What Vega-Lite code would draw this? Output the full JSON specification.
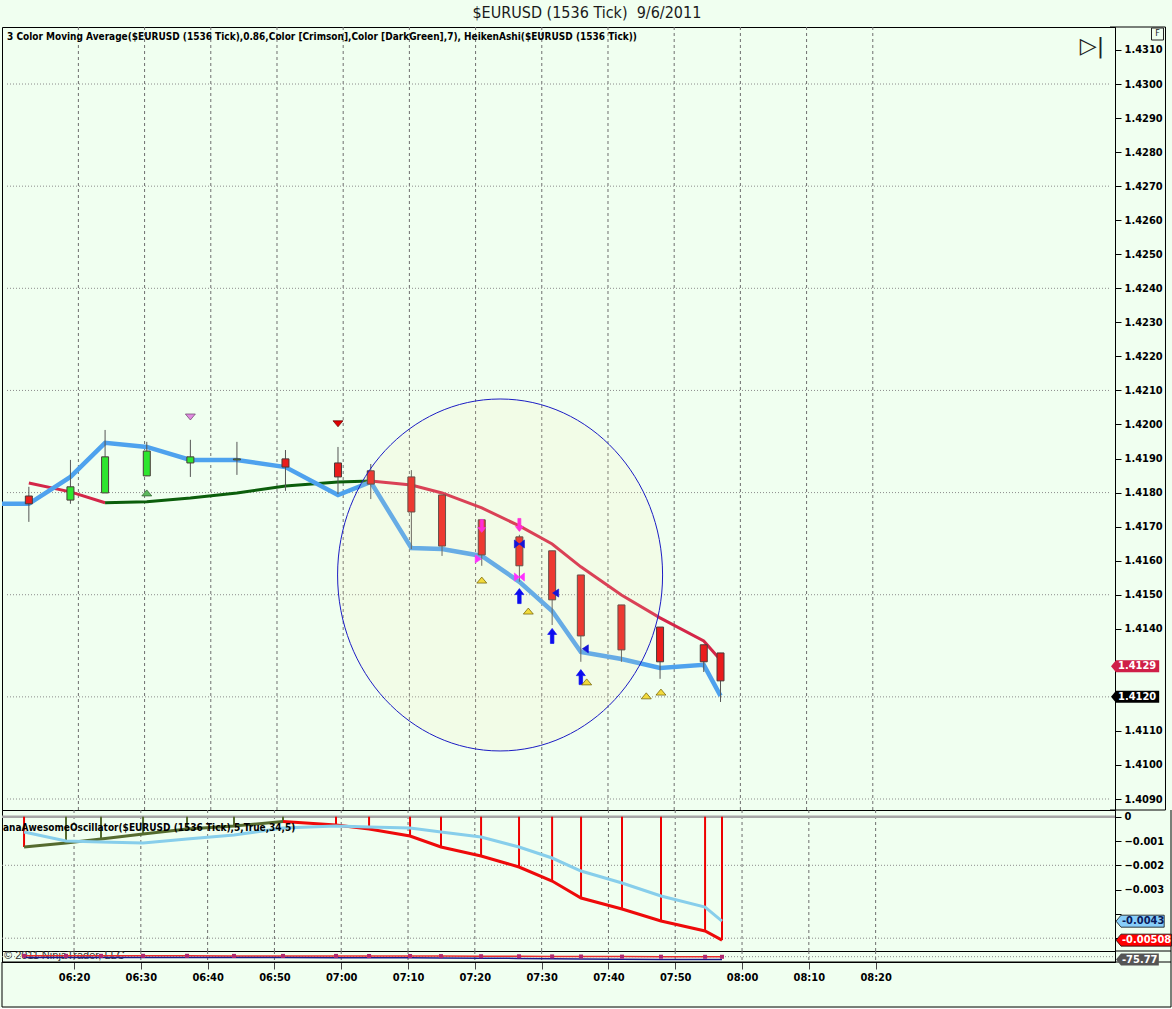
{
  "$schema": "https://vega.github.io/schema/vega-lite/v6.json",
  "description": "$EURUSD 1536 tick chart with Heiken Ashi candles, 3 colour moving average and awesome oscillator",
  "background": "#f0fff0",
  "padding": {"left": 0, "top": 4, "right": 0, "bottom": 0},
  "title": {
    "text": "$EURUSD (1536 Tick) \u00a09/6/2011",
    "font": "DejaVu Sans Condensed, sans-serif",
    "fontSize": 16,
    "fontWeight": "normal",
    "color": "#1a1a1a",
    "anchor": "middle",
    "offset": 5
  },
  "datasets": {
    "gridTimes": [
      {"t": "2011-09-06T06:20:00"}, {"t": "2011-09-06T06:30:00"}, {"t": "2011-09-06T06:40:00"},
      {"t": "2011-09-06T06:50:00"}, {"t": "2011-09-06T07:00:00"}, {"t": "2011-09-06T07:10:00"},
      {"t": "2011-09-06T07:20:00"}, {"t": "2011-09-06T07:30:00"}, {"t": "2011-09-06T07:40:00"},
      {"t": "2011-09-06T07:50:00"}, {"t": "2011-09-06T08:00:00"}, {"t": "2011-09-06T08:10:00"},
      {"t": "2011-09-06T08:20:00"}
    ],
    "priceGrid": [
      {"level": 1.43}, {"level": 1.427}, {"level": 1.424}, {"level": 1.421},
      {"level": 1.418}, {"level": 1.415}, {"level": 1.412}, {"level": 1.409}
    ],
    "ha": [
      {"t": "2011-09-06T06:12:31", "open": 1.41790, "high": 1.41817, "low": 1.41714, "close": 1.41767},
      {"t": "2011-09-06T06:18:48", "open": 1.41778, "high": 1.41896, "low": 1.41767, "close": 1.41817},
      {"t": "2011-09-06T06:24:02", "open": 1.41799, "high": 1.41984, "low": 1.41799, "close": 1.41905},
      {"t": "2011-09-06T06:30:20", "open": 1.41849, "high": 1.41949, "low": 1.41849, "close": 1.41922},
      {"t": "2011-09-06T06:36:55", "open": 1.41887, "high": 1.41955, "low": 1.41846, "close": 1.41905},
      {"t": "2011-09-06T06:43:57", "open": 1.41896, "high": 1.41949, "low": 1.41852, "close": 1.41899},
      {"t": "2011-09-06T06:51:17", "open": 1.41899, "high": 1.41925, "low": 1.41805, "close": 1.41875},
      {"t": "2011-09-06T06:59:13", "open": 1.41887, "high": 1.41934, "low": 1.41796, "close": 1.41846},
      {"t": "2011-09-06T07:04:10", "open": 1.41864, "high": 1.41884, "low": 1.41781, "close": 1.41825},
      {"t": "2011-09-06T07:10:18", "open": 1.41846, "high": 1.41866, "low": 1.41634, "close": 1.41743},
      {"t": "2011-09-06T07:14:56", "open": 1.41793, "high": 1.41793, "low": 1.41614, "close": 1.41643},
      {"t": "2011-09-06T07:20:56", "open": 1.41720, "high": 1.41720, "low": 1.41585, "close": 1.41617},
      {"t": "2011-09-06T07:26:37", "open": 1.41670, "high": 1.41676, "low": 1.41538, "close": 1.41585},
      {"t": "2011-09-06T07:31:34", "open": 1.41629, "high": 1.41629, "low": 1.41411, "close": 1.41485},
      {"t": "2011-09-06T07:35:54", "open": 1.41558, "high": 1.41558, "low": 1.41303, "close": 1.41379},
      {"t": "2011-09-06T07:42:02", "open": 1.41470, "high": 1.41470, "low": 1.41303, "close": 1.41338},
      {"t": "2011-09-06T07:47:52", "open": 1.41405, "high": 1.41405, "low": 1.41253, "close": 1.41303},
      {"t": "2011-09-06T07:54:28", "open": 1.41353, "high": 1.41353, "low": 1.41273, "close": 1.41303},
      {"t": "2011-09-06T07:57:00", "open": 1.41329, "high": 1.41329, "low": 1.41185, "close": 1.41247}
    ],
    "blue": [
      {"t": "2011-09-06T06:06:00", "v": 1.41767},
      {"t": "2011-09-06T06:12:31", "v": 1.41767},
      {"t": "2011-09-06T06:18:48", "v": 1.41846},
      {"t": "2011-09-06T06:24:02", "v": 1.41946},
      {"t": "2011-09-06T06:30:20", "v": 1.41934},
      {"t": "2011-09-06T06:36:55", "v": 1.41896},
      {"t": "2011-09-06T06:43:57", "v": 1.41896},
      {"t": "2011-09-06T06:51:17", "v": 1.41875},
      {"t": "2011-09-06T06:59:13", "v": 1.41793},
      {"t": "2011-09-06T07:04:10", "v": 1.41831},
      {"t": "2011-09-06T07:10:18", "v": 1.41637},
      {"t": "2011-09-06T07:14:56", "v": 1.41634},
      {"t": "2011-09-06T07:20:56", "v": 1.41614},
      {"t": "2011-09-06T07:26:37", "v": 1.41538},
      {"t": "2011-09-06T07:31:34", "v": 1.41452},
      {"t": "2011-09-06T07:35:54", "v": 1.41332},
      {"t": "2011-09-06T07:42:02", "v": 1.41311},
      {"t": "2011-09-06T07:47:52", "v": 1.41285},
      {"t": "2011-09-06T07:54:28", "v": 1.41294},
      {"t": "2011-09-06T07:57:00", "v": 1.41203}
    ],
    "tcma": [
      {"t": "2011-09-06T06:12:31", "v": 1.41828, "trend": "falling", "seg": 1},
      {"t": "2011-09-06T06:18:48", "v": 1.41802, "trend": "falling", "seg": 1},
      {"t": "2011-09-06T06:24:02", "v": 1.41770, "trend": "falling", "seg": 1},
      {"t": "2011-09-06T06:24:02", "v": 1.41770, "trend": "rising", "seg": 2},
      {"t": "2011-09-06T06:30:20", "v": 1.41773, "trend": "rising", "seg": 2},
      {"t": "2011-09-06T06:36:55", "v": 1.41784, "trend": "rising", "seg": 2},
      {"t": "2011-09-06T06:43:57", "v": 1.41799, "trend": "rising", "seg": 2},
      {"t": "2011-09-06T06:51:17", "v": 1.41819, "trend": "rising", "seg": 2},
      {"t": "2011-09-06T06:59:13", "v": 1.41831, "trend": "rising", "seg": 2},
      {"t": "2011-09-06T07:04:10", "v": 1.41834, "trend": "rising", "seg": 2},
      {"t": "2011-09-06T07:04:10", "v": 1.41834, "trend": "falling", "seg": 3},
      {"t": "2011-09-06T07:10:18", "v": 1.41822, "trend": "falling", "seg": 3},
      {"t": "2011-09-06T07:14:56", "v": 1.41799, "trend": "falling", "seg": 3},
      {"t": "2011-09-06T07:20:56", "v": 1.41755, "trend": "falling", "seg": 3},
      {"t": "2011-09-06T07:26:37", "v": 1.41702, "trend": "falling", "seg": 3},
      {"t": "2011-09-06T07:31:34", "v": 1.41649, "trend": "falling", "seg": 3},
      {"t": "2011-09-06T07:35:54", "v": 1.41582, "trend": "falling", "seg": 3},
      {"t": "2011-09-06T07:42:02", "v": 1.41499, "trend": "falling", "seg": 3},
      {"t": "2011-09-06T07:47:52", "v": 1.41432, "trend": "falling", "seg": 3},
      {"t": "2011-09-06T07:54:28", "v": 1.41364, "trend": "falling", "seg": 3},
      {"t": "2011-09-06T07:57:00", "v": 1.41308, "trend": "falling", "seg": 3}
    ],
    "signals": [
      {"t": "2011-09-06T06:30:20", "price": 1.41799, "signal": "ha_up"},
      {"t": "2011-09-06T06:36:55", "price": 1.42022, "signal": "pink_dn"},
      {"t": "2011-09-06T06:59:13", "price": 1.42002, "signal": "red_dn"},
      {"t": "2011-09-06T07:20:56", "price": 1.41702, "signal": "mag_dn_arrow"},
      {"t": "2011-09-06T07:20:38", "price": 1.41605, "signal": "mag_right"},
      {"t": "2011-09-06T07:20:56", "price": 1.41543, "signal": "yellow_up"},
      {"t": "2011-09-06T07:26:37", "price": 1.41705, "signal": "mag_dn_arrow"},
      {"t": "2011-09-06T07:26:37", "price": 1.41649, "signal": "blue_bowtie"},
      {"t": "2011-09-06T07:26:37", "price": 1.41552, "signal": "mag_bowtie"},
      {"t": "2011-09-06T07:26:37", "price": 1.41496, "signal": "blue_up_arrow"},
      {"t": "2011-09-06T07:27:58", "price": 1.41452, "signal": "yellow_up"},
      {"t": "2011-09-06T07:31:52", "price": 1.41505, "signal": "blue_left"},
      {"t": "2011-09-06T07:31:34", "price": 1.41379, "signal": "blue_up_arrow"},
      {"t": "2011-09-06T07:36:21", "price": 1.41341, "signal": "blue_left"},
      {"t": "2011-09-06T07:35:54", "price": 1.41258, "signal": "blue_up_arrow"},
      {"t": "2011-09-06T07:36:47", "price": 1.41244, "signal": "yellow_up"},
      {"t": "2011-09-06T07:45:47", "price": 1.41203, "signal": "yellow_up"},
      {"t": "2011-09-06T07:48:00", "price": 1.41214, "signal": "yellow_up"}
    ],
    "ao": [
      {"t": "2011-09-06T06:12:31", "ao": -0.001247, "sig": -0.000630, "dir": "falling"},
      {"t": "2011-09-06T06:18:48", "ao": -0.001082, "sig": -0.001000, "dir": "rising"},
      {"t": "2011-09-06T06:24:02", "ao": -0.000918, "sig": -0.001041, "dir": "rising"},
      {"t": "2011-09-06T06:30:20", "ao": -0.000712, "sig": -0.001082, "dir": "rising"},
      {"t": "2011-09-06T06:36:55", "ao": -0.000506, "sig": -0.000918, "dir": "rising"},
      {"t": "2011-09-06T06:43:57", "ao": -0.000383, "sig": -0.000753, "dir": "rising"},
      {"t": "2011-09-06T06:51:17", "ao": -0.000200, "sig": -0.000465, "dir": "rising"},
      {"t": "2011-09-06T06:59:13", "ao": -0.000342, "sig": -0.000383, "dir": "falling"},
      {"t": "2011-09-06T07:04:10", "ao": -0.000506, "sig": -0.000424, "dir": "falling"},
      {"t": "2011-09-06T07:10:18", "ao": -0.000794, "sig": -0.000465, "dir": "falling"},
      {"t": "2011-09-06T07:14:56", "ao": -0.001247, "sig": -0.000630, "dir": "falling"},
      {"t": "2011-09-06T07:20:56", "ao": -0.001617, "sig": -0.000835, "dir": "falling"},
      {"t": "2011-09-06T07:26:37", "ao": -0.002070, "sig": -0.001247, "dir": "falling"},
      {"t": "2011-09-06T07:31:34", "ao": -0.002646, "sig": -0.001700, "dir": "falling"},
      {"t": "2011-09-06T07:35:54", "ao": -0.003346, "sig": -0.002235, "dir": "falling"},
      {"t": "2011-09-06T07:42:02", "ao": -0.003798, "sig": -0.002728, "dir": "falling"},
      {"t": "2011-09-06T07:47:52", "ao": -0.004292, "sig": -0.003263, "dir": "falling"},
      {"t": "2011-09-06T07:54:28", "ao": -0.004704, "sig": -0.003716, "dir": "falling"},
      {"t": "2011-09-06T07:57:00", "ao": -0.005080, "sig": -0.004300, "dir": "falling"}
    ],
    "lower": [
      {"t": "2011-09-06T06:12:31", "k": -38, "d": -55},
      {"t": "2011-09-06T06:18:48", "k": -38, "d": -55},
      {"t": "2011-09-06T06:24:02", "k": -38, "d": -55},
      {"t": "2011-09-06T06:30:20", "k": -38, "d": -55},
      {"t": "2011-09-06T06:36:55", "k": -38, "d": -56},
      {"t": "2011-09-06T06:43:57", "k": -39, "d": -56},
      {"t": "2011-09-06T06:51:17", "k": -39, "d": -56},
      {"t": "2011-09-06T06:59:13", "k": -39, "d": -57},
      {"t": "2011-09-06T07:04:10", "k": -40, "d": -57},
      {"t": "2011-09-06T07:10:18", "k": -40, "d": -58},
      {"t": "2011-09-06T07:14:56", "k": -41, "d": -60},
      {"t": "2011-09-06T07:20:56", "k": -42, "d": -62},
      {"t": "2011-09-06T07:26:37", "k": -43, "d": -64},
      {"t": "2011-09-06T07:31:34", "k": -44, "d": -67},
      {"t": "2011-09-06T07:35:54", "k": -45, "d": -70},
      {"t": "2011-09-06T07:42:02", "k": -46, "d": -72},
      {"t": "2011-09-06T07:47:52", "k": -47, "d": -74},
      {"t": "2011-09-06T07:54:28", "k": -48, "d": -75},
      {"t": "2011-09-06T07:57:00", "k": -48, "d": -75.77}
    ]
  },
  "spacing": 0,
  "bounds": "flush",
  "resolve": {
    "scale": {"x": "independent", "y": "independent", "color": "independent", "fill": "independent", "shape": "independent", "stroke": "independent"}
  },
  "vconcat": [
    {
      "width": 1113,
      "height": 783,
      "layer": [
        {
          "data": {"name": "gridTimes"},
          "mark": {"type": "rule", "color": "#6e6e6e", "strokeDash": [3, 3], "strokeWidth": 1},
          "encoding": {
            "x": {
              "field": "t", "type": "temporal", "axis": null,
              "scale": {"domain": [
                {"year": 2011, "month": 9, "date": 6, "hours": 6, "minutes": 9, "seconds": 13},
                {"year": 2011, "month": 9, "date": 6, "hours": 8, "minutes": 55, "seconds": 50}
              ]}
            }
          }
        },
        {
          "data": {"name": "priceGrid"},
          "mark": {"type": "rule", "color": "#8c8c8c", "strokeDash": [1, 2], "strokeWidth": 1},
          "encoding": {
            "x": {"datum": {"year": 2011, "month": 9, "date": 6, "hours": 6, "minutes": 9, "seconds": 13}, "type": "temporal", "axis": null},
            "x2": {"datum": {"year": 2011, "month": 9, "date": 6, "hours": 8, "minutes": 55, "seconds": 50}},
            "y": {
              "field": "level", "type": "quantitative",
              "axis": {
                "orient": "right", "title": null, "tickCount": 25, "grid": false, "tickSize": 6, "labelPadding": 3,
                "labelExpr": "abs(datum.value - 1.413) < 0.00001 || abs(datum.value - 1.412) < 0.00001 ? '' : format(datum.value, '.4f')"
              },
              "scale": {"domain": [1.408677, 1.431675], "nice": false, "zero": false}
            }
          }
        },
        {
          "data": {"values": [{"level": 1.431675}, {"level": 1.408677}]},
          "mark": {"type": "rule", "color": "#000000", "strokeWidth": 1},
          "encoding": {
            "x": {"datum": {"year": 2011, "month": 9, "date": 6, "hours": 8, "minutes": 55, "seconds": 50}, "type": "temporal", "axis": null},
            "x2": {"datum": {"year": 2011, "month": 9, "date": 6, "hours": 9, "minutes": 4, "seconds": 13}},
            "y": {"field": "level", "type": "quantitative"}
          }
        },
        {
          "data": {"values": [{"top": 1.431675, "bottom": 1.408677}]},
          "mark": {"type": "rule", "color": "#000000", "strokeWidth": 1},
          "encoding": {
            "x": {"datum": {"year": 2011, "month": 9, "date": 6, "hours": 9, "minutes": 4, "seconds": 13}, "type": "temporal", "axis": null},
            "y": {"field": "top", "type": "quantitative"},
            "y2": {"field": "bottom"}
          }
        },
        {
          "data": {"name": "tcma"},
          "mark": {"type": "line", "strokeWidth": 3},
          "encoding": {
            "x": {"field": "t", "type": "temporal", "axis": null},
            "y": {"field": "v", "type": "quantitative"},
            "color": {"field": "trend", "type": "nominal", "legend": null, "scale": {"domain": ["falling", "rising"], "range": ["#d42648", "#0b5e0b"]}},
            "detail": {"field": "seg"}
          }
        },
        {
          "data": {"name": "blue"},
          "mark": {"type": "line", "color": "#4ea2ee", "strokeWidth": 4.5, "clip": true},
          "encoding": {
            "x": {"field": "t", "type": "temporal", "axis": null},
            "y": {"field": "v", "type": "quantitative"}
          }
        },
        {
          "data": {"name": "ha"},
          "mark": {"type": "rule", "color": "#555555", "strokeWidth": 1},
          "encoding": {
            "x": {"field": "t", "type": "temporal", "axis": null},
            "y": {"field": "low", "type": "quantitative"},
            "y2": {"field": "high"}
          }
        },
        {
          "data": {"name": "ha"},
          "mark": {"type": "bar", "width": 7, "stroke": "#4a3a3a", "strokeWidth": 1},
          "encoding": {
            "x": {"field": "t", "type": "temporal", "axis": null},
            "y": {"field": "open", "type": "quantitative"},
            "y2": {"field": "close"},
            "color": {"condition": {"test": "datum.close > datum.open", "value": "#2ee62e"}, "value": "#ea1c1c"}
          }
        },
        {
          "data": {"values": [{"t": "2011-09-06T07:23:42", "price": 1.41558}]},
          "mark": {
            "type": "point",
            "shape": "M-1,0A1,1.083,0,1,0,1,0A1,1.083,0,1,0,-1,0Z",
            "size": 105625,
            "filled": true,
            "fill": "#ffe8b0",
            "fillOpacity": 0.14,
            "stroke": "#1c1cc4",
            "strokeWidth": 1,
            "strokeOpacity": 1
          },
          "encoding": {
            "x": {"field": "t", "type": "temporal", "axis": null},
            "y": {"field": "price", "type": "quantitative"}
          }
        },
        {
          "data": {"name": "signals"},
          "mark": {"type": "point", "filled": true, "size": 100, "strokeWidth": 0.7, "opacity": 1},
          "encoding": {
            "x": {"field": "t", "type": "temporal", "axis": null},
            "y": {"field": "price", "type": "quantitative"},
            "shape": {
              "field": "signal", "type": "nominal", "legend": null,
              "scale": {
                "domain": ["ha_up", "pink_dn", "red_dn", "yellow_up", "blue_up_arrow", "mag_dn_arrow", "mag_bowtie", "blue_bowtie", "mag_right", "blue_left"],
                "range": [
                  "M-1,0.6L1,0.6L0,-0.6Z",
                  "M-1,-0.6L1,-0.6L0,0.6Z",
                  "M-1,-0.6L1,-0.6L0,0.6Z",
                  "M-1,0.6L1,0.6L0,-0.6Z",
                  "M0,-1.5L0.9,-0.3L0.35,-0.3L0.35,1.5L-0.35,1.5L-0.35,-0.3L-0.9,-0.3Z",
                  "M0,1.3L0.8,0.3L0.3,0.3L0.3,-1.3L-0.3,-1.3L-0.3,0.3L-0.8,0.3Z",
                  "M-1,-0.8L0,0L-1,0.8ZM1,-0.8L0,0L1,0.8Z",
                  "M-1,-0.8L0,0L-1,0.8ZM1,-0.8L0,0L1,0.8Z",
                  "M-0.9,-0.8L0.3,0L-0.9,0.8Z",
                  "M0.9,-0.8L-0.3,0L0.9,0.8Z"
                ]
              }
            },
            "fill": {
              "field": "signal", "type": "nominal", "legend": null,
              "scale": {
                "domain": ["ha_up", "pink_dn", "red_dn", "yellow_up", "blue_up_arrow", "mag_dn_arrow", "mag_bowtie", "blue_bowtie", "mag_right", "blue_left"],
                "range": ["#5cb85c", "#e08ae0", "#e00000", "#f2da3c", "#0c0cf0", "#ff2ed8", "#ff30ff", "#1414d8", "#ff30ff", "#1414d8"]
              }
            },
            "stroke": {
              "field": "signal", "type": "nominal", "legend": null,
              "scale": {
                "domain": ["ha_up", "pink_dn", "red_dn", "yellow_up", "blue_up_arrow", "mag_dn_arrow", "mag_bowtie", "blue_bowtie", "mag_right", "blue_left"],
                "range": ["#2d5a2d", "#664466", "#600000", "#6b5a00", "#0c0cf0", "#ff2ed8", "#ff30ff", "#1414d8", "#ff30ff", "#1414d8"]
              }
            }
          }
        },
        {
          "data": {"values": [{"label": "3 Color Moving Average($EURUSD (1536 Tick),0.86,Color [Crimson],Color [DarkGreen],7), HeikenAshi($EURUSD (1536 Tick))"}]},
          "mark": {"type": "text", "align": "left", "baseline": "middle", "dx": 0, "dy": 10, "font": "DejaVu Sans Condensed, sans-serif", "fontSize": 10, "fontWeight": "bold", "color": "#000"},
          "encoding": {
            "x": {"datum": {"year": 2011, "month": 9, "date": 6, "hours": 6, "minutes": 9, "seconds": 13}, "type": "temporal", "axis": null},
            "y": {"datum": 1.431675, "type": "quantitative"},
            "text": {"field": "label"}
          }
        },
        {
          "data": {"values": [{"label": "\u25b7|"}]},
          "mark": {"type": "text", "align": "center", "baseline": "middle", "dx": -18, "dy": 19, "font": "DejaVu Sans", "fontSize": 22, "color": "#222"},
          "encoding": {
            "x": {"datum": {"year": 2011, "month": 9, "date": 6, "hours": 8, "minutes": 55, "seconds": 50}, "type": "temporal", "axis": null},
            "y": {"datum": 1.431675, "type": "quantitative"},
            "text": {"field": "label"}
          }
        },
        {
          "data": {"values": [{"label": "F"}]},
          "mark": {"type": "square", "size": 144, "filled": false, "color": "#222", "strokeWidth": 1, "xOffset": -8, "yOffset": 7, "opacity": 1},
          "encoding": {
            "x": {"datum": {"year": 2011, "month": 9, "date": 6, "hours": 9, "minutes": 4, "seconds": 13}, "type": "temporal", "axis": null},
            "y": {"datum": 1.431675, "type": "quantitative"}
          }
        },
        {
          "data": {"values": [{"label": "F"}]},
          "mark": {"type": "text", "align": "center", "baseline": "middle", "dx": -8, "dy": 7, "font": "DejaVu Sans", "fontSize": 8, "color": "#222"},
          "encoding": {
            "x": {"datum": {"year": 2011, "month": 9, "date": 6, "hours": 9, "minutes": 4, "seconds": 13}, "type": "temporal", "axis": null},
            "y": {"datum": 1.431675, "type": "quantitative"},
            "text": {"field": "label"}
          }
        },
        {
          "data": {"values": [{"label": "1.4129", "v": 1.4129, "kind": "tcma"}, {"label": "1.4120", "v": 1.412, "kind": "last"}]},
          "mark": {"type": "point", "filled": true, "size": 144, "shape": "M0.17,0L1,-1L8.2,-1L8.2,1L1,1Z", "opacity": 1},
          "encoding": {
            "x": {"datum": {"year": 2011, "month": 9, "date": 6, "hours": 8, "minutes": 55, "seconds": 50}, "type": "temporal", "axis": null},
            "y": {"field": "v", "type": "quantitative"},
            "color": {"condition": {"test": "datum.kind == 'tcma'", "value": "#cf1f48"}, "value": "#000000"}
          }
        },
        {
          "data": {"values": [{"label": "1.4129", "v": 1.4129, "kind": "tcma"}, {"label": "1.4120", "v": 1.412, "kind": "last"}]},
          "mark": {"type": "text", "align": "left", "baseline": "middle", "dx": 8, "font": "DejaVu Sans Condensed, DejaVu Sans", "fontSize": 11, "fontWeight": "bold", "color": "#ffffff"},
          "encoding": {
            "x": {"datum": {"year": 2011, "month": 9, "date": 6, "hours": 8, "minutes": 55, "seconds": 50}, "type": "temporal", "axis": null},
            "y": {"field": "v", "type": "quantitative"},
            "text": {"field": "label"}
          }
        }
      ]
    },
    {
      "width": 1113,
      "height": 141,
      "layer": [
        {
          "data": {"name": "gridTimes"},
          "mark": {"type": "rule", "color": "#6e6e6e", "strokeDash": [3, 3], "strokeWidth": 1},
          "encoding": {
            "x": {
              "field": "t", "type": "temporal", "axis": null,
              "scale": {"domain": [
                {"year": 2011, "month": 9, "date": 6, "hours": 6, "minutes": 9, "seconds": 13},
                {"year": 2011, "month": 9, "date": 6, "hours": 8, "minutes": 55, "seconds": 50}
              ]}
            }
          }
        },
        {
          "data": {"values": [{"level": -0.002}, {"level": -0.005}]},
          "mark": {"type": "rule", "color": "#8c8c8c", "strokeDash": [1, 2], "strokeWidth": 1},
          "encoding": {
            "x": {"datum": {"year": 2011, "month": 9, "date": 6, "hours": 6, "minutes": 9, "seconds": 13}, "type": "temporal", "axis": null},
            "x2": {"datum": {"year": 2011, "month": 9, "date": 6, "hours": 8, "minutes": 55, "seconds": 50}},
            "y": {
              "field": "level", "type": "quantitative",
              "axis": {
                "orient": "right", "title": null, "tickCount": 6, "grid": false, "tickSize": 6, "labelPadding": 3,
                "labelExpr": "datum.value > -0.00001 ? '0' : (datum.value < -0.0035 ? '' : format(datum.value, '.3f'))"
              },
              "scale": {"domain": [-0.005527, 0.000276], "nice": false, "zero": false}
            }
          }
        },
        {
          "data": {"values": [{"level": -0.005527}]},
          "mark": {"type": "rule", "color": "#000000", "strokeWidth": 1},
          "encoding": {
            "x": {"datum": {"year": 2011, "month": 9, "date": 6, "hours": 8, "minutes": 55, "seconds": 50}, "type": "temporal", "axis": null},
            "x2": {"datum": {"year": 2011, "month": 9, "date": 6, "hours": 9, "minutes": 4, "seconds": 13}},
            "y": {"field": "level", "type": "quantitative"}
          }
        },
        {
          "data": {"values": [{"top": 0.000276, "bottom": -0.005527}]},
          "mark": {"type": "rule", "color": "#000000", "strokeWidth": 1},
          "encoding": {
            "x": {"datum": {"year": 2011, "month": 9, "date": 6, "hours": 9, "minutes": 4, "seconds": 13}, "type": "temporal", "axis": null},
            "y": {"field": "top", "type": "quantitative"},
            "y2": {"field": "bottom"}
          }
        },
        {
          "data": {"values": [{"level": 0}]},
          "mark": {"type": "rule", "color": "#a6a6a6", "strokeWidth": 2.5},
          "encoding": {
            "x": {"datum": {"year": 2011, "month": 9, "date": 6, "hours": 6, "minutes": 9, "seconds": 13}, "type": "temporal", "axis": null},
            "x2": {"datum": {"year": 2011, "month": 9, "date": 6, "hours": 8, "minutes": 55, "seconds": 50}},
            "y": {"field": "level", "type": "quantitative"}
          }
        },
        {
          "data": {"name": "ao"},
          "mark": {"type": "rule", "strokeWidth": 2},
          "encoding": {
            "x": {"field": "t", "type": "temporal", "axis": null},
            "y": {"field": "ao", "type": "quantitative"},
            "y2": {"datum": 0},
            "color": {"field": "dir", "type": "nominal", "legend": null, "scale": {"domain": ["rising", "falling"], "range": ["#556b2f", "#ee0000"]}}
          }
        },
        {
          "data": {"name": "ao"},
          "transform": [{"filter": "time(datum.t) <= time(datetime(2011, 8, 6, 6, 51, 17))"}],
          "mark": {"type": "line", "color": "#556b2f", "strokeWidth": 3},
          "encoding": {
            "x": {"field": "t", "type": "temporal", "axis": null},
            "y": {"field": "ao", "type": "quantitative"}
          }
        },
        {
          "data": {"name": "ao"},
          "transform": [{"filter": "time(datum.t) >= time(datetime(2011, 8, 6, 6, 51, 17))"}],
          "mark": {"type": "line", "color": "#ee0a0a", "strokeWidth": 3},
          "encoding": {
            "x": {"field": "t", "type": "temporal", "axis": null},
            "y": {"field": "ao", "type": "quantitative"}
          }
        },
        {
          "data": {"name": "ao"},
          "mark": {"type": "line", "color": "#87ceeb", "strokeWidth": 3},
          "encoding": {
            "x": {"field": "t", "type": "temporal", "axis": null},
            "y": {"field": "sig", "type": "quantitative"}
          }
        },
        {
          "data": {"values": [{"label": "anaAwesomeOscillator($EURUSD (1536 Tick),5,True,34,5)"}]},
          "mark": {"type": "text", "align": "left", "baseline": "middle", "dx": 1, "dy": 18, "font": "DejaVu Sans Condensed, sans-serif", "fontSize": 10, "fontWeight": "bold", "color": "#000"},
          "encoding": {
            "x": {"datum": {"year": 2011, "month": 9, "date": 6, "hours": 6, "minutes": 9, "seconds": 13}, "type": "temporal", "axis": null},
            "y": {"datum": 0.000276, "type": "quantitative"},
            "text": {"field": "label"}
          }
        },
        {
          "data": {"values": [{"label": "-0.0043", "v": -0.0043, "kind": "sig"}, {"label": "-0.00508", "v": -0.00508, "kind": "ao"}]},
          "mark": {"type": "point", "filled": true, "size": 144, "stroke": "#111", "strokeWidth": 0.8, "opacity": 1},
          "encoding": {
            "x": {"datum": {"year": 2011, "month": 9, "date": 6, "hours": 8, "minutes": 55, "seconds": 50}, "type": "temporal", "axis": null},
            "y": {"field": "v", "type": "quantitative"},
            "color": {"condition": {"test": "datum.kind == 'sig'", "value": "#87cefa"}, "value": "#ff0000"},
            "shape": {"condition": {"test": "datum.kind == 'sig'", "value": "M0.17,0L1,-1L8.2,-1L8.2,1L1,1Z"}, "value": "M0.17,0L1,-1L9.4,-1L9.4,1L1,1Z"}
          }
        },
        {
          "data": {"values": [{"label": "-0.0043", "v": -0.0043, "kind": "sig"}, {"label": "-0.00508", "v": -0.00508, "kind": "ao"}]},
          "mark": {"type": "text", "align": "left", "baseline": "middle", "dx": 7, "font": "DejaVu Sans Condensed, DejaVu Sans", "fontSize": 11, "fontWeight": "bold"},
          "encoding": {
            "x": {"datum": {"year": 2011, "month": 9, "date": 6, "hours": 8, "minutes": 55, "seconds": 50}, "type": "temporal", "axis": null},
            "y": {"field": "v", "type": "quantitative"},
            "text": {"field": "label"},
            "color": {"condition": {"test": "datum.kind == 'sig'", "value": "#0a1a5a"}, "value": "#ffffff"}
          }
        }
      ]
    },
    {
      "width": 1113,
      "height": 11,
      "layer": [
        {
          "data": {"name": "gridTimes"},
          "mark": {"type": "rule", "color": "#6e6e6e", "strokeDash": [3, 3], "strokeWidth": 1},
          "encoding": {
            "x": {
              "field": "t", "type": "temporal",
              "scale": {"domain": [
                {"year": 2011, "month": 9, "date": 6, "hours": 6, "minutes": 9, "seconds": 13},
                {"year": 2011, "month": 9, "date": 6, "hours": 8, "minutes": 55, "seconds": 50}
              ]},
              "axis": {
                "orient": "bottom", "title": null, "grid": false, "format": "%H:%M",
                "tickSize": 7, "tickColor": "#444", "labelPadding": 2, "domainColor": "#000",
                "values": [
                  {"year": 2011, "month": 9, "date": 6, "hours": 6, "minutes": 20},
                  {"year": 2011, "month": 9, "date": 6, "hours": 6, "minutes": 30},
                  {"year": 2011, "month": 9, "date": 6, "hours": 6, "minutes": 40},
                  {"year": 2011, "month": 9, "date": 6, "hours": 6, "minutes": 50},
                  {"year": 2011, "month": 9, "date": 6, "hours": 7, "minutes": 0},
                  {"year": 2011, "month": 9, "date": 6, "hours": 7, "minutes": 10},
                  {"year": 2011, "month": 9, "date": 6, "hours": 7, "minutes": 20},
                  {"year": 2011, "month": 9, "date": 6, "hours": 7, "minutes": 30},
                  {"year": 2011, "month": 9, "date": 6, "hours": 7, "minutes": 40},
                  {"year": 2011, "month": 9, "date": 6, "hours": 7, "minutes": 50},
                  {"year": 2011, "month": 9, "date": 6, "hours": 8, "minutes": 0},
                  {"year": 2011, "month": 9, "date": 6, "hours": 8, "minutes": 10},
                  {"year": 2011, "month": 9, "date": 6, "hours": 8, "minutes": 20}
                ]
              }
            }
          }
        },
        {
          "data": {"values": [{"level": -47}]},
          "mark": {"type": "rule", "color": "#8c8c8c", "strokeDash": [1, 2], "strokeWidth": 1},
          "encoding": {
            "x": {"datum": {"year": 2011, "month": 9, "date": 6, "hours": 6, "minutes": 9, "seconds": 13}, "type": "temporal"},
            "x2": {"datum": {"year": 2011, "month": 9, "date": 6, "hours": 8, "minutes": 55, "seconds": 50}},
            "y": {"field": "level", "type": "quantitative", "axis": null, "scale": {"domain": [-100, 10], "nice": false, "zero": false}}
          }
        },
        {
          "data": {"values": [{"level": -100}, {"level": -550}]},
          "mark": {"type": "rule", "color": "#000000", "strokeWidth": 1},
          "encoding": {
            "x": {"datum": {"year": 2011, "month": 9, "date": 6, "hours": 6, "minutes": 9, "seconds": 13}, "type": "temporal"},
            "x2": {"datum": {"year": 2011, "month": 9, "date": 6, "hours": 9, "minutes": 4, "seconds": 13}},
            "y": {"field": "level", "type": "quantitative", "axis": null}
          }
        },
        {
          "data": {"values": [{"top": -100, "bottom": -550}]},
          "mark": {"type": "rule", "color": "#000000", "strokeWidth": 1},
          "encoding": {
            "x": {"datum": {"year": 2011, "month": 9, "date": 6, "hours": 6, "minutes": 9, "seconds": 13}, "type": "temporal"},
            "y": {"field": "top", "type": "quantitative", "axis": null},
            "y2": {"field": "bottom"}
          }
        },
        {
          "data": {"values": [{"top": 10, "bottom": -550}]},
          "mark": {"type": "rule", "color": "#000000", "strokeWidth": 1},
          "encoding": {
            "x": {"datum": {"year": 2011, "month": 9, "date": 6, "hours": 9, "minutes": 4, "seconds": 13}, "type": "temporal"},
            "y": {"field": "top", "type": "quantitative", "axis": null},
            "y2": {"field": "bottom"}
          }
        },
        {
          "data": {"values": [{"label": "\u00a9 2011 NinjaTrader, LLC"}]},
          "mark": {"type": "text", "align": "left", "baseline": "middle", "dx": 2, "font": "Liberation Sans, sans-serif", "fontSize": 11, "color": "#333"},
          "encoding": {
            "x": {"datum": {"year": 2011, "month": 9, "date": 6, "hours": 6, "minutes": 9, "seconds": 13}, "type": "temporal"},
            "y": {"datum": -37, "type": "quantitative", "axis": null},
            "text": {"field": "label"}
          }
        },
        {
          "data": {"name": "lower"},
          "mark": {"type": "line", "color": "#e82a2a", "strokeWidth": 1.5},
          "encoding": {
            "x": {"field": "t", "type": "temporal"},
            "y": {"field": "k", "type": "quantitative", "axis": null}
          }
        },
        {
          "data": {"name": "lower"},
          "mark": {"type": "line", "color": "#1c1c8c", "strokeWidth": 1.5},
          "encoding": {
            "x": {"field": "t", "type": "temporal"},
            "y": {"field": "d", "type": "quantitative", "axis": null}
          }
        },
        {
          "data": {"name": "lower"},
          "mark": {"type": "square", "color": "#b02a70", "size": 16, "opacity": 1},
          "encoding": {
            "x": {"field": "t", "type": "temporal"},
            "y": {"field": "k", "type": "quantitative", "axis": null}
          }
        },
        {
          "data": {"values": [{"label": "-75.77", "v": -75.77}]},
          "mark": {"type": "point", "filled": true, "size": 144, "shape": "M0.17,0L1,-1L7.3,-1L7.3,1L1,1Z", "color": "#555555", "opacity": 1},
          "encoding": {
            "x": {"datum": {"year": 2011, "month": 9, "date": 6, "hours": 8, "minutes": 55, "seconds": 50}, "type": "temporal"},
            "y": {"field": "v", "type": "quantitative", "axis": null}
          }
        },
        {
          "data": {"values": [{"label": "-75.77", "v": -75.77}]},
          "mark": {"type": "text", "align": "left", "baseline": "middle", "dx": 7, "font": "DejaVu Sans Condensed, DejaVu Sans", "fontSize": 11, "fontWeight": "bold", "color": "#ffffff"},
          "encoding": {
            "x": {"datum": {"year": 2011, "month": 9, "date": 6, "hours": 8, "minutes": 55, "seconds": 50}, "type": "temporal"},
            "y": {"field": "v", "type": "quantitative", "axis": null},
            "text": {"field": "label"}
          }
        }
      ]
    }
  ],
  "config": {
    "view": {"stroke": "#000000", "strokeWidth": 1},
    "axis": {
      "labelFont": "DejaVu Sans Condensed, DejaVu Sans",
      "labelFontSize": 11,
      "labelFontWeight": "bold",
      "labelColor": "#000000",
      "domainColor": "#000000",
      "tickColor": "#000000"
    }
  }
}
